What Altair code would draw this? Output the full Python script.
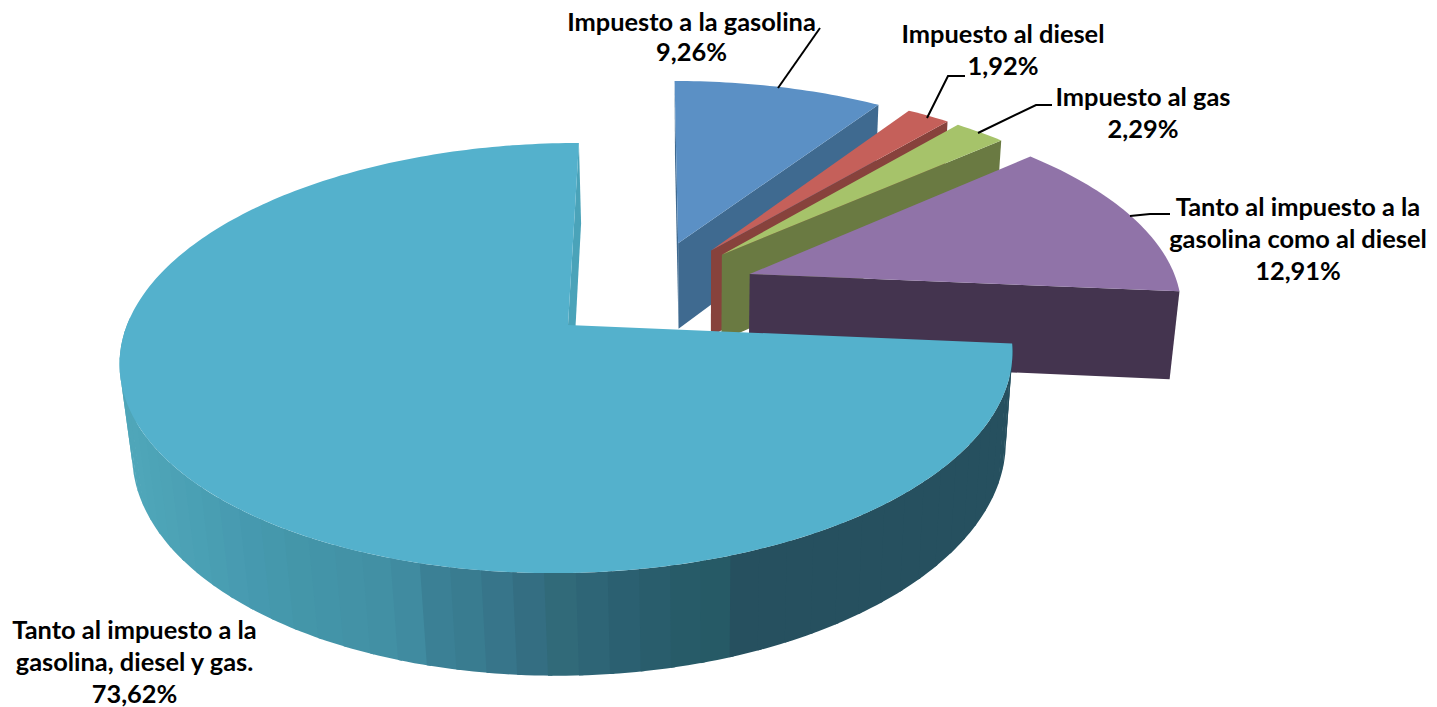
import math
import altair as alt
import pandas as pd

# ---- values ----
categories = ["Impuesto a la gasolina", "Impuesto al diesel", "Impuesto al gas",
              "Tanto al impuesto a la gasolina como al diesel",
              "Tanto al impuesto a la gasolina, diesel y gas."]
percent = [9.26, 1.92, 2.29, 12.91, 73.62]
top_colors = ["#5B90C5", "#C5605A", "#A6C36A", "#9073A8", "#54B1CC"]
cut_colors = ["#3F6A90", "#87423C", "#6A7A42", "#44344F", "#4AA3B9"]
rim_stops = [(130, "#4FA6B9"), (200, "#4A9FB3"), (240, "#479AB0"), (300, "#4496A9"),
             (400, "#418EA3"), (440, "#3B7F94"), (480, "#387A8E"), (520, "#357085"),
             (560, "#316A79"), (600, "#2E6475"), (640, "#2A5E6F"), (680, "#275B68"),
             (718, "#265A66"), (722, "#26505F"), (1100, "#26505F")]

label_lines = [
    (691.5, 31, "Impuesto a la gasolina"), (691.5, 61, "9,26%"),
    (1003, 43, "Impuesto al diesel"), (1003, 75, "1,92%"),
    (1143, 106, "Impuesto al gas"), (1143, 138, "2,29%"),
    (1298, 216, "Tanto al impuesto a la"), (1298, 248, "gasolina como al diesel"), (1298, 280, "12,91%"),
    (134.5, 639, "Tanto al impuesto a la"), (134.5, 671, "gasolina, diesel y gas."), (134.5, 703, "73,62%"),
]
leaders = [
    [(778, 88), (820, 28)],
    [(927, 118), (948, 76), (965, 76)],
    [(978, 133), (1036, 105), (1052, 105)],
    [(1130, 216), (1150, 214), (1170, 214)],
]

# ---- view geometry of the tilted, exploded disc ----
VX, VY, D, K, R, A0 = 650.0, -1043.0, 1368.0, 0.1535, 441.0, -82.0
EXPLODE, CX, CU = 0.252, 0.1815, 0.173
NX, NY = 699.0, 4576.0


def top(px, pu):
    w = 1 + K * pu
    return VX + (A0 + R * px) / w, VY + D / w


def bottom(p):
    x, y = p
    h = 85.5 + 0.052 * (y - 243)
    t = h / (NY - y)
    return x + (NX - x) * t, y + h


def hex_mix(a, b, f):
    ca = [int(a[i:i + 2], 16) for i in (1, 3, 5)]
    cb = [int(b[i:i + 2], 16) for i in (1, 3, 5)]
    return "#%02x%02x%02x" % tuple(round(p + (q - p) * f) for p, q in zip(ca, cb))


def rim_color(x):
    if x <= rim_stops[0][0]:
        return rim_stops[0][1]
    for (x0, c0), (x1, c1) in zip(rim_stops, rim_stops[1:]):
        if x <= x1:
            return hex_mix(c0, c1, (x - x0) / (x1 - x0))
    return rim_stops[-1][1]


rows = []
poly_id = 0


def add_poly(points, color):
    global poly_id
    for x, y in points:
        rows.append({"poly": poly_id, "i": len(rows), "x": x, "y": y, "fill": color})
    poly_id += 1


total = sum(percent)
start = 0.0
for idx, v in enumerate(percent):
    a0 = start
    a1 = start + v / total * 360
    start = a1
    m = math.radians((a0 + a1) / 2)
    if idx == 4:  # the large slice's tip is the view origin
        ox, ou = 0.0, 0.0
    else:
        ox = CX + EXPLODE * math.sin(m)
        ou = CU + EXPLODE * math.cos(m)
    apex = top(ox, ou)

    def rim(deg):
        r = math.radians(deg)
        return top(ox + math.sin(r), ou + math.cos(r))

    steps = max(2, int((a1 - a0)))
    arc = [rim(a0 + (a1 - a0) * s / steps) for s in range(steps + 1)]
    if idx == 0:  # left cut face of the first slice
        add_poly([arc[0], bottom(arc[0]), bottom(apex), apex], cut_colors[idx])
    if idx < 4:  # right cut face
        add_poly([apex, arc[-1], bottom(arc[-1]), bottom(apex)], cut_colors[idx])
    else:
        # cut face along the first edge, then the outer wall as overlapping shaded strips
        add_poly([arc[-1], bottom(arc[-1]), bottom(apex), apex], cut_colors[idx])
        deg = 272.0
        while deg > a0:
            lo = max(a0, deg - 4)
            pts = [rim(lo + (deg - lo) * s / 4) for s in range(5)]
            mid_x = pts[2][0]
            add_poly(pts + [bottom(p) for p in reversed(pts)], rim_color(mid_x))
            deg -= 3.5
    add_poly([apex] + arc, top_colors[idx])

poly_df = pd.DataFrame(rows)
x_scale = alt.Scale(domain=[8, 1429], nice=False, zero=False)
y_scale = alt.Scale(domain=[707, 8], nice=False, zero=False)
X = alt.X("x:Q", scale=x_scale, axis=None)
Y = alt.Y("y:Q", scale=y_scale, axis=None)

shapes = alt.Chart(poly_df).mark_line(interpolate="linear-closed", strokeWidth=0).encode(
    x=X, y=Y,
    detail="poly:N",
    order="i:Q",
    fill=alt.Fill("fill:N", scale=None),
)

leader_rows = [{"k": k, "i": i, "x": p[0], "y": p[1]}
               for k, line in enumerate(leaders) for i, p in enumerate(line)]
leader_marks = alt.Chart(pd.DataFrame(leader_rows)).mark_line(color="black", strokeWidth=2).encode(
    x=X, y=Y, detail="k:N", order="i:Q")

text_df = pd.DataFrame(label_lines, columns=["x", "y", "t"])
texts = alt.Chart(text_df).mark_text(
    font="Lato", fontWeight="bold", fontSize=25.4, align="center", baseline="alphabetic", color="black"
).encode(x=X, y=Y, text="t:N")

chart = alt.layer(shapes, leader_marks, texts).properties(
    width=1421, height=699, padding=0, autosize=alt.AutoSizeParams(type="none"), background="white"
).configure_view(stroke=None)

chart.save("out.html", embed_options={"renderer": "svg", "actions": False})
